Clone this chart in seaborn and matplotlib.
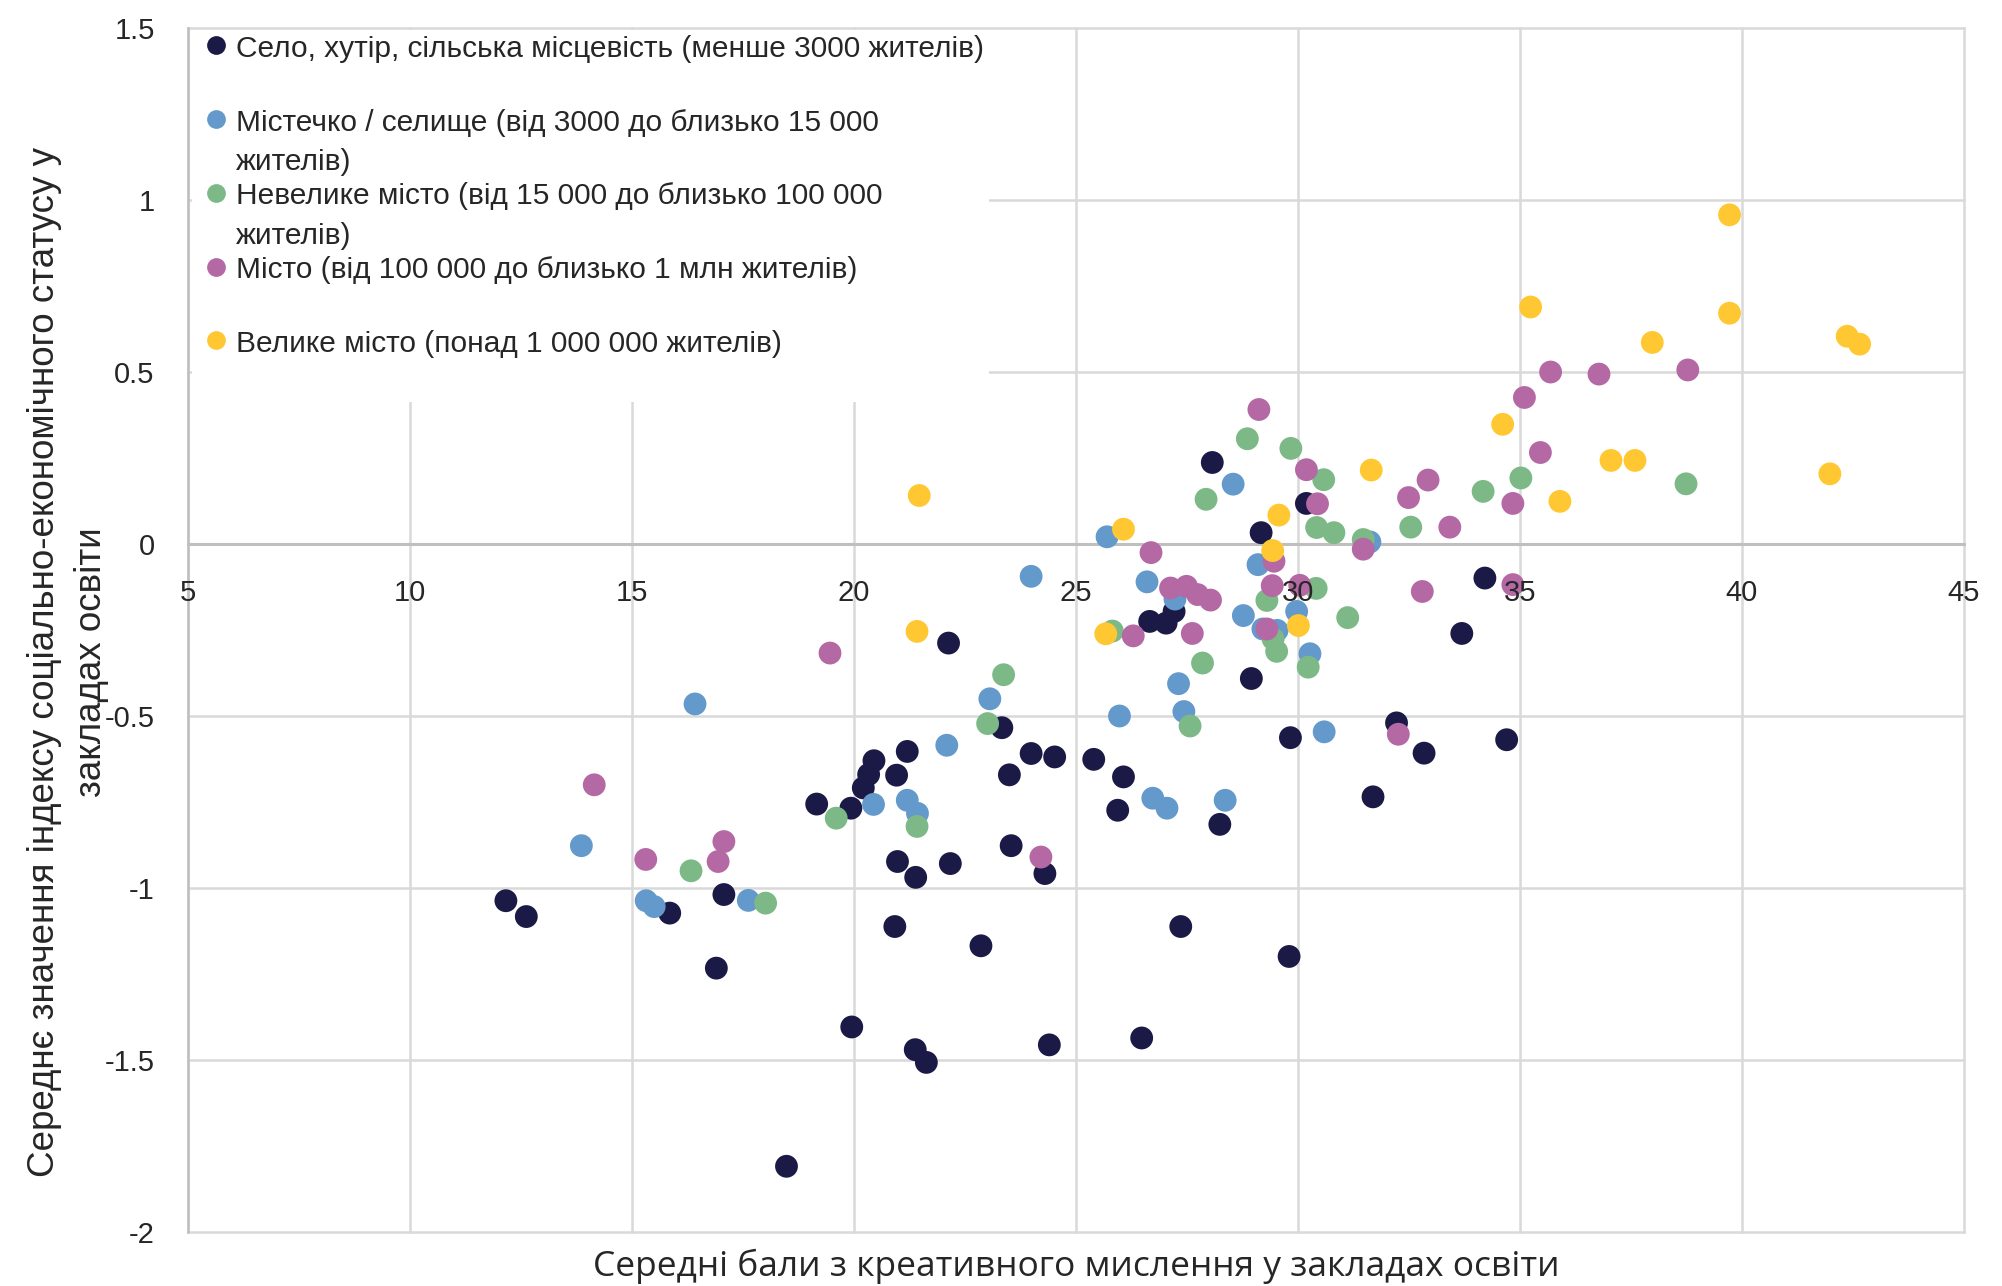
import matplotlib
matplotlib.use("Agg")
import matplotlib.pyplot as plt
from matplotlib import font_manager
from matplotlib.lines import Line2D
from matplotlib.ticker import FuncFormatter, MultipleLocator
import seaborn as sns
import pandas as pd

# --- data ---
groups = [
    "Село, хутір, сільська місцевість (менше 3000 жителів)",
    "Містечко / селище (від 3000 до близько 15 000 жителів)",
    "Невелике місто (від 15 000 до близько 100 000 жителів)",
    "Місто (від 100 000 до близько 1 млн жителів)",
    "Велике місто (понад 1 000 000 жителів)",
]
legend_labels = [
    "Село, хутір, сільська місцевість (менше 3000 жителів)\n",
    "Містечко / селище (від 3000 до близько 15 000\nжителів)",
    "Невелике місто (від 15 000 до близько 100 000\nжителів)",
    "Місто (від 100 000 до близько 1 млн жителів)\n",
    "Велике місто (понад 1 000 000 жителів)\n",
]
colors = ["#1B1946", "#6499CC", "#7DB987", "#B469A5", "#FFC832"]

village_x = [12.16, 12.62, 15.85, 16.90, 17.07, 18.48, 19.16, 19.93, 19.95, 20.21,
             20.33, 20.45, 20.96, 21.20, 20.98, 21.39, 20.92, 21.38, 21.63, 22.13,
             22.17, 22.86, 23.33, 23.50, 23.54, 23.99, 24.52, 24.30, 24.40, 25.40,
             26.07, 25.94, 26.48, 26.66, 27.03, 27.21, 28.07, 28.24, 28.95, 29.17,
             30.19, 29.83, 29.80, 27.36, 31.69, 32.22, 32.84, 33.69, 34.21, 34.70]
village_y = [-1.037, -1.083, -1.073, -1.233, -1.019, -1.809, -0.756, -0.768, -1.404, -0.709,
             -0.670, -0.630, -0.672, -0.603, -0.923, -0.969, -1.112, -1.470, -1.507, -0.288,
             -0.929, -1.168, -0.534, -0.671, -0.877, -0.609, -0.619, -0.958, -1.456, -0.626,
             -0.677, -0.774, -1.436, -0.225, -0.230, -0.196, 0.237, -0.815, -0.391, 0.033,
             0.118, -0.563, -1.199, -1.112, -0.735, -0.520, -0.608, -0.260, -0.099, -0.569]

town_x = [13.86, 15.32, 15.50, 16.42, 17.62, 20.44, 21.20, 21.43, 22.09, 23.06,
          23.99, 25.70, 25.98, 26.60, 26.73, 27.05, 27.23, 27.31, 27.43, 28.36,
          28.54, 28.77, 29.10, 29.21, 29.53, 29.97, 30.27, 30.59, 31.62]
town_y = [-0.877, -1.037, -1.054, -0.465, -1.036, -0.757, -0.745, -0.783, -0.585, -0.450,
          -0.094, 0.021, -0.500, -0.110, -0.739, -0.768, -0.160, -0.406, -0.487, -0.745,
          0.174, -0.208, -0.060, -0.247, -0.251, -0.196, -0.319, -0.546, 0.006]

small_city_x = [16.33, 18.01, 19.60, 21.42, 23.01, 23.37, 25.82, 27.57, 27.85, 27.93,
                28.86, 29.30, 29.44, 29.52, 29.84, 30.23, 30.41, 30.42, 30.58, 30.81,
                31.12, 31.47, 32.54, 34.17, 35.02, 38.74]
small_city_y = [-0.950, -1.044, -0.797, -0.821, -0.522, -0.380, -0.253, -0.529, -0.346, 0.130,
                0.306, -0.164, -0.276, -0.312, 0.278, -0.358, -0.129, 0.048, 0.187, 0.033,
                -0.214, 0.013, 0.049, 0.153, 0.192, 0.175]

city_x = [14.15, 15.31, 16.94, 17.07, 19.46, 24.21, 26.29, 26.69, 27.13, 27.49,
          27.74, 28.03, 27.62, 29.12, 29.30, 29.42, 29.46, 30.04, 30.19, 30.44,
          31.47, 32.26, 32.49, 32.80, 32.93, 33.42, 34.84, 34.84, 35.10, 35.46,
          35.69, 36.78, 38.78]
city_y = [-0.700, -0.917, -0.923, -0.865, -0.317, -0.910, -0.267, -0.025, -0.128, -0.123,
          -0.147, -0.163, -0.260, 0.391, -0.247, -0.121, -0.050, -0.120, 0.216, 0.117,
          -0.015, -0.553, 0.135, -0.138, 0.186, 0.049, 0.118, -0.118, 0.426, 0.266,
          0.500, 0.494, 0.506]

big_city_x = [21.47, 21.42, 25.67, 26.07, 29.43, 29.57, 30.01, 31.65, 34.61, 35.24,
              35.90, 37.05, 37.59, 37.98, 39.72, 39.72, 41.98, 42.37, 42.65]
big_city_y = [0.141, -0.254, -0.261, 0.043, -0.019, 0.084, -0.237, 0.215, 0.348, 0.689,
              0.124, 0.243, 0.243, 0.586, 0.957, 0.671, 0.204, 0.604, 0.581]

xs = [village_x, town_x, small_city_x, city_x, big_city_x]
ys = [village_y, town_y, small_city_y, city_y, big_city_y]

df = pd.concat(
    [pd.DataFrame({"x": x, "y": y, "group": g}) for x, y, g in zip(xs, ys, groups)],
    ignore_index=True,
)

# --- fonts ---
installed = {f.name for f in font_manager.fontManager.ttflist}
def pick(*names):
    for n in names:
        if n in installed:
            return n
    return "DejaVu Sans"

arial = pick("Liberation Sans", "Arimo", "DejaVu Sans")
segoe = pick("Open Sans", "Noto Sans", "DejaVu Sans")
text_color = "#262626"
grid_color = "#D9D9D9"
axis_color = "#BFBFBF"

fig = plt.figure(figsize=(20.02, 12.86), dpi=100)
ax = fig.add_axes([0.0939, 0.0420, 0.8871, 0.9362])

sns.scatterplot(
    data=df, x="x", y="y", hue="group", hue_order=groups,
    palette=dict(zip(groups, colors)), s=270, linewidth=0, alpha=1,
    legend=False, ax=ax, zorder=2,
)

ax.set_xlim(5, 45)
ax.set_ylim(-2, 1.5)
ax.xaxis.set_major_locator(MultipleLocator(5))
ax.yaxis.set_major_locator(MultipleLocator(0.5))
ax.yaxis.set_major_formatter(FuncFormatter(lambda v, p: f"{v:g}"))
ax.xaxis.set_major_formatter(FuncFormatter(lambda v, p: f"{v:g}"))

# grid drawn under the points, tick labels above them
for v in range(5, 46, 5):
    ax.axvline(v, color=grid_color, lw=1.8, zorder=0.5, clip_on=False)
for v in [-2, -1.5, -1, -0.5, 0.5, 1, 1.5]:
    ax.axhline(v, color=grid_color, lw=1.8, zorder=0.5, clip_on=False)

for side in ["top", "right"]:
    ax.spines[side].set_visible(False)
ax.spines["bottom"].set_position(("data", 0))
ax.spines["bottom"].set_color(axis_color)
ax.spines["bottom"].set_linewidth(2.2)
ax.spines["bottom"].set_zorder(0.6)
ax.spines["left"].set_color(axis_color)
ax.spines["left"].set_linewidth(1.8)
ax.spines["left"].set_zorder(0.6)
ax.xaxis.set_zorder(3)
ax.yaxis.set_zorder(3)

ax.tick_params(axis="both", length=0, labelsize=21, labelcolor=text_color)
ax.tick_params(axis="x", pad=25)
ax.tick_params(axis="y", pad=24)
for lab in ax.get_xticklabels() + ax.get_yticklabels():
    lab.set_fontfamily(arial)

ax.set_xlabel("")
ax.set_ylabel("")
fig.text(0.034, 0.485,
         "Середнє значення індексу соціально-економічного статусу у\nзакладах освіти",
         rotation=90, ha="center", va="center", multialignment="center",
         fontsize=26.5, family=arial, color=text_color, linespacing=1.45)
fig.text(0.5374, 0.0155, "Середні бали з креативного мислення у закладах освіти",
         ha="center", va="center", fontsize=25.5, family=segoe, color=text_color)

handles = [Line2D([], [], marker="o", linestyle="", markersize=13.5,
                  markerfacecolor=c, markeredgewidth=0) for c in colors]
leg = ax.legend(
    handles, legend_labels, loc="upper left", bbox_to_anchor=(0.002, 0.998),
    borderaxespad=0, frameon=True, fancybox=False, framealpha=1,
    facecolor="white", edgecolor="none", borderpad=0.15, labelspacing=0.21,
    handlelength=1.34, handletextpad=0.0,
    prop={"family": arial, "size": 21.5},
)
leg.set_zorder(5)
for t in leg.get_texts():
    t.set_color(text_color)
    t.set_linespacing(1.52)
try:
    for col in leg._legend_handle_box.get_children():
        for row in col.get_children():
            row.align = "top"
except AttributeError:
    pass

fig.savefig("out.png", dpi=100)
